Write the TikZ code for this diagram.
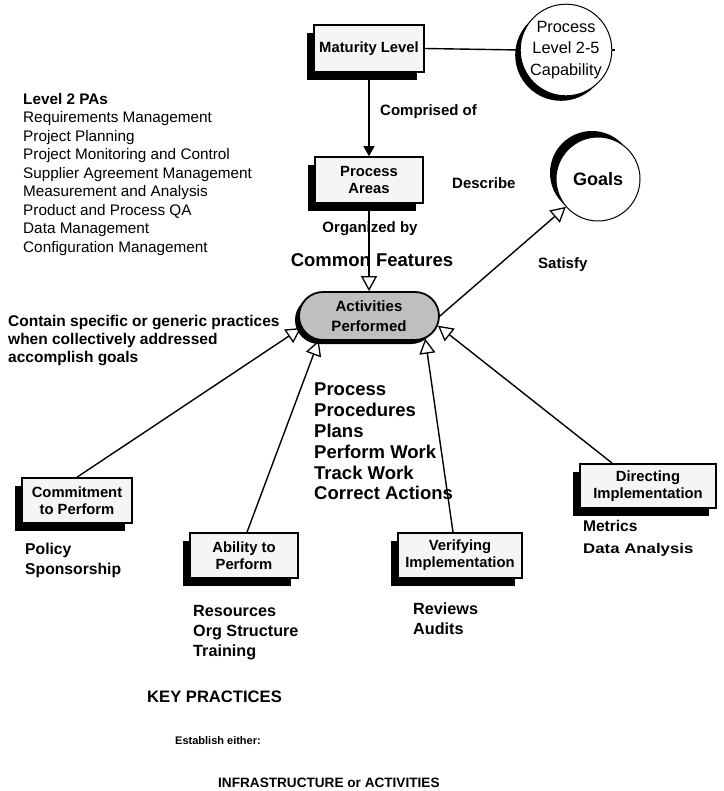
\documentclass[tikz,border=0pt]{standalone}
\usepackage{fontspec}
\setmainfont{Liberation Sans}
\usetikzlibrary{arrows.meta,shapes.misc,shadows,calc}

\newcommand{\fs}[2]{\fontsize{#1}{#2}\selectfont}

\tikzset{
  pbox/.style={draw, line width=1.6pt, fill=white!96!black, align=center,
    font=\bfseries\fs{14.8}{17}, inner sep=2pt,
    drop shadow={shadow xshift=-7pt, shadow yshift=-8pt, fill=black, opacity=1}},
  pcirc/.style={circle, draw, line width=1pt, fill=white, align=center, inner sep=0pt},
  lbl/.style={inner sep=0pt, font=\bfseries\fs{15}{18}},
  wire/.style={line width=1.4pt},
  openarrow/.style={-{Triangle[open, length=15pt, width=16pt, line width=1.3pt]}},
  fillarrow/.style={-{Triangle[length=10pt, width=11pt]}},
}

\begin{document}
\begin{tikzpicture}[x=1pt, y=-1pt]
\useasboundingbox (0,0) rectangle (723,791);

% ---- nodes ----
\node[pbox, minimum width=110pt, minimum height=47pt] (mat) at (369,48.5) {Maturity Level};
\node[pbox, minimum width=108pt, minimum height=46pt] (pa) at (369,180) {Process\\Areas};
\node[pcirc, minimum size=90pt, font=\fs{16.3}{21.5},
  drop shadow={shadow xshift=-5pt, shadow yshift=-5pt, fill=black, opacity=1}]
  (pcap) at (566,50) {Process\\Level 2-5\\Capability};
\node[pcirc, minimum size=84pt, font=\bfseries\fs{18}{20},
  drop shadow={shadow xshift=-6pt, shadow yshift=6pt, fill=black, opacity=1}]
  (goals) at (598,179) {Goals};
\node[rounded rectangle, draw, line width=1.8pt, fill=black!25, align=center,
  minimum width=142pt, minimum height=48pt, inner sep=1pt,
  font=\bfseries\fs{15}{20},
  drop shadow={shadow xshift=-4pt, shadow yshift=-4pt, fill=black, opacity=1}]
  (act) at (369,316) {Activities\\Performed};

\node[pbox, minimum width=110pt, minimum height=45pt] (com) at (77,500.5) {Commitment\\to Perform};
\node[pbox, minimum width=108pt, minimum height=45pt] (abi) at (244,555.5) {Ability to\\Perform};
\node[pbox, minimum width=124pt, minimum height=45pt] (ver) at (460,555.5) {Verifying\\Implementation};
\node[pbox, minimum width=136pt, minimum height=44pt] (dir) at (648,486) {Directing\\Implementation};

% ---- connectors ----
\draw[wire] (mat.east) -- (pcap.west);
\draw[wire] (pcap.east) -- ++(3,0);
\draw[wire, fillarrow] (mat.south) -- (pa.north);
\draw[wire, openarrow] (pa.south) -- (act.north);
\draw[wire, openarrow] (act.east) -- (goals);
\draw[wire, openarrow] (com.north) -- (act.190);
\draw[wire, openarrow] ($(abi.north)+(3,0)$) -- (act.206);
\draw[wire, openarrow] ($(ver.north)+(-7,0)$) -- (act.338);
\draw[wire, openarrow] ($(dir.north west)+(33,0)$) -- (act.352);

% ---- labels ----
\node[inner sep=0pt, anchor=north west, align=left, font=\fs{15.3}{18.5}] (pas) at (23,93)
  {\textbf{Level 2 PAs}\\
   Requirements Management\\
   Project Planning\\
   Project Monitoring and Control\\
   Supplier Agreement Management\\
   Measurement and Analysis\\
   Product and Process QA\\
   Data Management\\
   Configuration Management};

\node[lbl, anchor=west] (comp) at (380,112) {Comprised of};
\node[lbl, anchor=west] (desc) at (452,183) {Describe};
\node[lbl] (org) at (370,229) {Organized by};
\node[lbl, font=\bfseries\fs{18.5}{22}] (cf) at (372,260) {Common Features};
\node[lbl, anchor=west] (sat) at (538,265) {Satisfy};

\node[lbl, anchor=north west, align=left, font=\bfseries\fs{15.5}{18}] (cont) at (8,315)
  {Contain specific or generic practices\\
   when collectively addressed\\
   accomplish goals};

\node[lbl, anchor=north west, align=left, font=\bfseries\fs{18.5}{20.8}] (acts) at (314,383)
  {Process\\Procedures\\Plans\\Perform Work\\Track Work\\Correct Actions};

\node[lbl, anchor=north west, align=left, font=\bfseries\fs{15.7}{20}] (pol) at (25,543)
  {Policy\\Sponsorship};
\node[lbl, anchor=north west, align=left, font=\bfseries\fs{16.2}{20}] (res) at (193,605)
  {Resources\\Org Structure\\Training};
\node[lbl, anchor=north west, align=left, font=\bfseries\fs{16.2}{20}] (rev) at (413,603)
  {Reviews\\Audits};
\node[lbl, anchor=west, font=\bfseries\fs{15.5}{18}] (met) at (583,526) {Metrics};
\node[lbl, anchor=west, font=\bfseries\fs{14}{16}] (da) at (583,550) {\scalebox{1.2}[1]{Data Analysis}};

\node[lbl, anchor=west, font=\bfseries\fs{16.6}{18}] (key) at (147,697) {KEY PRACTICES};
\node[lbl, anchor=west, font=\bfseries\fs{11}{14}] (est) at (175,741) {Establish either:};
\node[lbl, anchor=west, font=\bfseries\fs{13.6}{16}] (inf) at (218,783) {INFRASTRUCTURE or ACTIVITIES};
\end{tikzpicture}
\end{document}
